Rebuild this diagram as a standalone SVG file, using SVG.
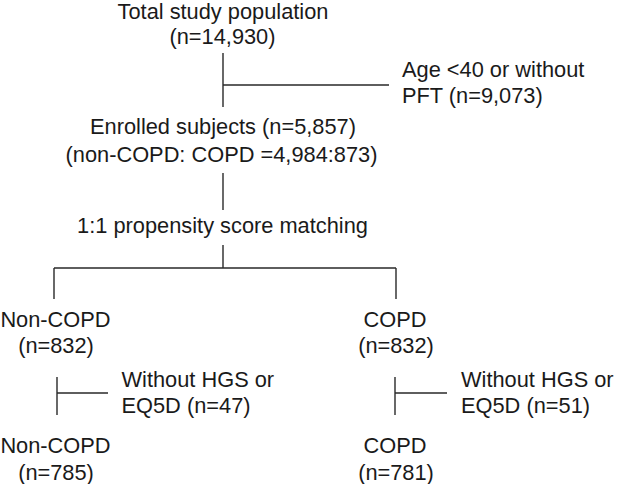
<svg xmlns="http://www.w3.org/2000/svg" width="618" height="484" viewBox="0 0 618 484">
<style>
text{font-family:"Liberation Sans",Arial,sans-serif;font-size:21.8px;fill:#1a1a1a}
.c{text-anchor:middle}
.ln{stroke:#2a2a2a;stroke-width:1.4;fill:none}
</style>
<rect width="618" height="484" fill="#fff"/>
<g id="connectors">
<path class="ln" d="M223,53V107M223,85H389"/>
<path class="ln" d="M223,173V210"/>
<path class="ln" d="M223,245V268M54,268H396M54,268V299M396,268V299"/>
<path class="ln" d="M57,377V415M57,393H108"/>
<path class="ln" d="M395,377V415M395,393H447"/>
</g>
<g id="total"><text class="c" x="223" y="18.5">Total study population</text><text class="c" x="222.5" y="43.5">(n=14,930)</text></g>
<g id="excl1"><text x="402" y="76.5">Age &lt;40 or without</text><text x="402" y="103">PFT (n=9,073)</text></g>
<g id="enrolled"><text class="c" x="223" y="134">Enrolled subjects (n=5,857)</text><text class="c" x="221.5" y="162">(non-COPD: COPD =4,984:873)</text></g>
<g id="psm"><text class="c" x="222.5" y="233">1:1 propensity score matching</text></g>
<g id="noncopd1"><text class="c" x="55.5" y="327">Non-COPD</text><text class="c" x="56" y="353">(n=832)</text></g>
<g id="copd1"><text class="c" x="395" y="327">COPD</text><text class="c" x="396" y="353">(n=832)</text></g>
<g id="excl2"><text x="121.5" y="387">Without HGS or</text><text x="121.5" y="413">EQ5D (n=47)</text></g>
<g id="excl3"><text x="461" y="387">Without HGS or</text><text x="461" y="413">EQ5D (n=51)</text></g>
<g id="noncopd2"><text class="c" x="55.5" y="453">Non-COPD</text><text class="c" x="56" y="480">(n=785)</text></g>
<g id="copd2"><text class="c" x="395" y="453">COPD</text><text class="c" x="396" y="480">(n=781)</text></g>
</svg>
